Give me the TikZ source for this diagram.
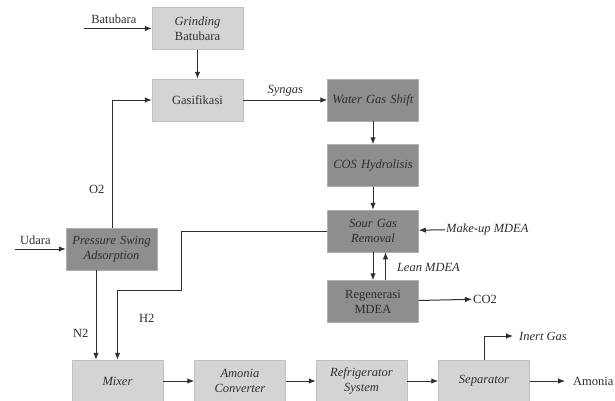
\documentclass[tikz,border=0pt]{standalone}
\usepackage{fontspec}
\setmainfont{Liberation Serif}
\definecolor{pklight}{HTML}{D4D4D4}
\definecolor{pkdark}{HTML}{8E8E8E}
\definecolor{pkink}{HTML}{2E2E2E}
\usetikzlibrary{arrows.meta,positioning}

\begin{document}
\begin{tikzpicture}[x=1pt,y=1pt,
  unit/.style={draw=pkink!30,line width=0.5pt,align=center,text=pkink,
    font=\rmfamily\fontsize{12.5}{15}\selectfont,inner sep=3pt,text width=85pt,minimum height=42pt},
  light/.style={unit,fill=pklight},
  dark/.style={unit,fill=pkdark,draw=pkdark!70!white},
  lbl/.style={font=\rmfamily\fontsize{12.5}{15}\selectfont,text=pkink,inner sep=1pt},
  arr/.style={-{Latex[length=7pt,width=5.5pt]},line width=1pt,pkink}]
  \fill[white] (0,0) rectangle (615,-400);
  \useasboundingbox (0,0) rectangle (615,-400);
  % upper train
  \node[light] (grind) at (197.5,-28.5) {\textit{Grinding}\\Batubara};
  \node[light,below=29pt of grind] (gas) {Gasifikasi};
  \node[dark,right=84pt of gas] (wgs) {\textit{Water Gas Shift}};
  \node[dark,below=23pt of wgs] (cos) {\textit{COS Hydrolisis}};
  \node[dark,below=23pt of cos] (sgr) {\textit{Sour Gas}\\\textit{Removal}};
  \node[dark,below=28pt of sgr] (regen) {Regenerasi\\MDEA};
  \node[dark] (psa) at (111.5,-249) {\textit{Pressure Swing}\\\textit{Adsorption}};
  % synthesis loop
  \node[light] (mixer) at (117.5,-381) {\textit{Mixer}};
  \node[light,right=31pt of mixer] (conv) {\textit{Amonia}\\\textit{Converter}};
  \node[light,right=30pt of conv] (refr) {\textit{Refrigerator}\\\textit{System}};
  \node[light,right=31pt of refr] (sep) {\textit{Separator}};
  % feeds and products
  \coordinate (coalin) at (84,-28.5);
  \coordinate (airin) at (15,-249);
  \coordinate (h2bend) at (181,-290);
  \node[lbl,anchor=west] (makeup) at (445,-229) {\textit{Make-up MDEA}};
  \node[lbl,anchor=west] (co2) at (472,-299) {CO2};
  \node[lbl,anchor=west,inner xsep=6pt] (inert) at (513,-336) {\textit{Inert Gas}};
  \node[lbl,anchor=west,inner xsep=8pt] (nh3) at (565,-381) {Amonia};
  \draw[arr] (coalin) -- node[lbl,above=3pt,xshift=-4pt] {Batubara} (grind);
  \draw[arr] (grind) -- (gas);
  \draw[arr] (gas) -- node[lbl,above=2pt] {\textit{Syngas}} (wgs);
  \draw[arr] (wgs) -- (cos);
  \draw[arr] (cos) -- (sgr);
  \draw[arr] (makeup) -- (sgr);
  \draw[arr] (sgr) -- (regen);
  \draw[arr] ([xshift=12.5pt]regen.north) -- node[lbl,right=10pt,yshift=-1pt] {\textit{Lean MDEA}} ([xshift=12.5pt]sgr.south);
  \draw[arr] (regen) -- (co2);
  \draw[arr] (airin) -- node[lbl,above=3pt,xshift=-5pt] {Udara} (psa);
  \draw[arr] ([xshift=0.5pt]psa.north) |- node[lbl,pos=0.15,left=6pt] {O2} (gas);
  \draw[arr] ([xshift=-15.5pt]psa.south) -- node[lbl,pos=0.7,left=6pt] {N2} ([xshift=-15.5pt]psa.south |- mixer.north);
  \draw[arr] (sgr) -| (h2bend) -| node[lbl,pos=0.7,right=20pt] {H2} (mixer);
  \draw[arr] (mixer) -- (conv);
  \draw[arr] (conv) -- (refr);
  \draw[arr] (refr) -- (sep);
  \draw[arr] (sep.north) |- (inert);
  \draw[arr] (sep) -- (nh3);
\end{tikzpicture}
\end{document}
